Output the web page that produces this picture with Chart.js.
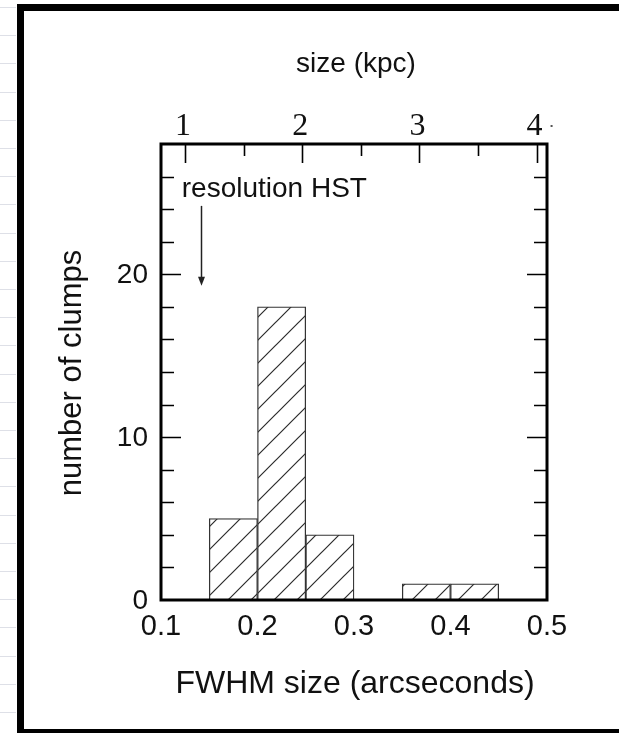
<!DOCTYPE html>
<html>
<head>
<meta charset="utf-8">
<script src="https://cdn.jsdelivr.net/npm/chart.js@4.4.1/dist/chart.umd.min.js"></script>
<style>
  html, body { margin: 0; padding: 0; background: #fff; }
  canvas { display: block; }
</style>
</head>
<body>
<canvas id="clumpChart" width="619" height="733"></canvas>
<script>
// FWHM histogram: bin start (arcsec) and number of clumps per bin
const binStarts = [0.10, 0.15, 0.20, 0.25, 0.30, 0.35, 0.40, 0.45];
const binWidth = 0.05;
const clumpCounts = [0, 5, 18, 4, 0, 1, 1, 0];

const xTickLabels = [0.1, 0.2, 0.3, 0.4, 0.5];
const yTickLabels = [0, 10, 20];
const kpcTickLabels = [1, 2, 3, 4];
// kpc values at the left and right ends of the arcsec axis (0.1" and 0.5")
const kpcRange = [0.795, 4.089];

const SANS = '"Liberation Sans", Arial, sans-serif';
const SERIF = '"Liberation Serif", "Times New Roman", serif';

function hatchPattern() {
  const s = 23;
  const c = document.createElement('canvas');
  c.width = s; c.height = s;
  const g = c.getContext('2d');
  g.fillStyle = '#fff';
  g.fillRect(0, 0, s, s);
  g.strokeStyle = '#2b2b2b';
  g.lineWidth = 1.2;
  g.beginPath();
  g.moveTo(0, s); g.lineTo(s, 0);
  g.moveTo(-2, 2); g.lineTo(2, -2);
  g.moveTo(s - 2, s + 2); g.lineTo(s + 2, s - 2);
  g.stroke();
  const ctx = document.getElementById('clumpChart').getContext('2d');
  return ctx.createPattern(c, 'repeat');
}

// page frame and the faint ruled margin behind it
const pageFrame = {
  id: 'pageFrame',
  beforeDraw(chart) {
    const ctx = chart.ctx;
    ctx.save();
    ctx.fillStyle = '#fff';
    ctx.fillRect(0, 0, chart.width, chart.height);
    ctx.strokeStyle = 'rgba(160,165,185,0.35)';
    ctx.lineWidth = 1;
    for (let y = 7; y < chart.height; y += 28.2) {
      ctx.beginPath();
      ctx.moveTo(0, Math.round(y) + 0.5);
      ctx.lineTo(16, Math.round(y) + 0.5);
      ctx.stroke();
    }
    ctx.fillStyle = '#000';
    ctx.fillRect(17, 4, 7, chart.height - 4);
    ctx.fillRect(17, 4, chart.width - 17, 7);
    ctx.fillRect(17, 729, chart.width - 17, 4);
    ctx.restore();
  }
};

// axes box, inward ticks, labels and the HST resolution marker
const plotAxes = {
  id: 'plotAxes',
  afterDatasetsDraw(chart) {
    const ctx = chart.ctx;
    const xs = chart.scales.x, ys = chart.scales.y, ks = chart.scales.x2;
    const { left, right, top, bottom } = chart.chartArea;
    ctx.save();
    ctx.strokeStyle = '#000';
    ctx.fillStyle = '#111';

    // y ticks on both sides
    ctx.lineWidth = 1.6;
    for (let v = 2; v < ys.max; v += 2) {
      const y = Math.round(ys.getPixelForValue(v)) + 0.5;
      const len = v % 10 === 0 ? 20 : 13;
      ctx.beginPath();
      ctx.moveTo(left, y); ctx.lineTo(left + len, y);
      ctx.moveTo(right, y); ctx.lineTo(right - len, y);
      ctx.stroke();
    }
    // kpc ticks along the top
    for (let k = 1; k <= 4; k += 0.5) {
      const x = Math.round(ks.getPixelForValue(k)) + 0.5;
      const len = Number.isInteger(k) ? 19 : 12;
      ctx.beginPath();
      ctx.moveTo(x, top); ctx.lineTo(x, top + len);
      ctx.stroke();
    }

    ctx.lineWidth = 3;
    ctx.strokeRect(left, top, right - left, bottom - top);

    // tick labels
    ctx.font = '28px ' + SANS;
    ctx.textAlign = 'right';
    ctx.textBaseline = 'middle';
    yTickLabels.forEach(v => ctx.fillText(String(v), left - 13, ys.getPixelForValue(v) + 1));
    ctx.textAlign = 'center';
    ctx.textBaseline = 'alphabetic';
    ctx.font = '29px ' + SANS;
    xTickLabels.forEach(v => ctx.fillText(v.toFixed(1), xs.getPixelForValue(v), bottom + 35));

    ctx.font = '32px ' + SERIF;
    kpcTickLabels.forEach(k => ctx.fillText(String(k), ks.getPixelForValue(k) - 2, top - 9));
    ctx.fillStyle = '#555';
    ctx.fillRect(ks.getPixelForValue(4) + 14, top - 19, 2, 2);
    ctx.fillStyle = '#111';

    // axis titles
    ctx.font = '28px ' + SANS;
    ctx.fillText('size (kpc)', (left + right) / 2 + 2, 72);
    ctx.font = '32px ' + SANS;
    ctx.fillText('FWHM size (arcseconds)', (left + right) / 2 + 1, 693);
    ctx.save();
    ctx.font = '31px ' + SANS;
    ctx.translate(72, 373);
    ctx.rotate(-Math.PI / 2);
    ctx.textBaseline = 'middle';
    ctx.fillText('number of clumps', 0, 0);
    ctx.restore();

    // resolution marker
    ctx.font = '28px ' + SANS;
    ctx.textAlign = 'left';
    ctx.fillText('resolution HST', xs.getPixelForValue(0.1215), ys.getPixelForValue(24.75));
    const ax = Math.round(xs.getPixelForValue(0.141)) + 0.5;
    const ay0 = ys.getPixelForValue(24.2);
    const ay1 = ys.getPixelForValue(19.3);
    ctx.lineWidth = 1.5;
    ctx.strokeStyle = '#222';
    ctx.beginPath();
    ctx.moveTo(ax, ay0); ctx.lineTo(ax, ay1 - 6);
    ctx.stroke();
    ctx.fillStyle = '#222';
    ctx.beginPath();
    ctx.moveTo(ax - 3.5, ay1 - 9);
    ctx.lineTo(ax + 3.5, ay1 - 9);
    ctx.lineTo(ax, ay1);
    ctx.closePath();
    ctx.fill();
    ctx.restore();
  }
};

new Chart(document.getElementById('clumpChart'), {
  type: 'bar',
  data: {
    datasets: [{
      data: binStarts.map((s, i) => ({ x: s + binWidth / 2, y: clumpCounts[i] })),
      backgroundColor: hatchPattern(),
      borderColor: '#333',
      borderWidth: 1.3,
      barPercentage: 1,
      categoryPercentage: 1
    }]
  },
  options: {
    responsive: false,
    animation: false,
    events: [],
    layout: { padding: { left: 161, right: 72, top: 144, bottom: 133 } },
    plugins: { legend: { display: false }, tooltip: { enabled: false } },
    scales: {
      x: { type: 'linear', min: 0.1, max: 0.5, offset: false, display: false },
      x2: {
        type: 'linear', position: 'top', display: false, offset: false,
        min: kpcRange[0], max: kpcRange[1]
      },
      y: { type: 'linear', min: 0, max: 28, display: false }
    }
  },
  plugins: [pageFrame, plotAxes]
});
</script>
</body>
</html>
